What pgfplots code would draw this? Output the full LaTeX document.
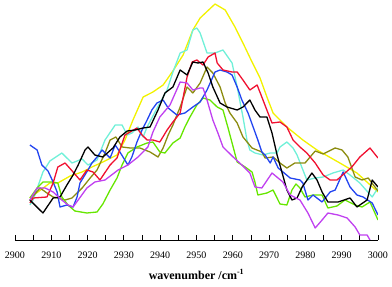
\documentclass[border=0pt]{standalone}
\usepackage{fontspec}
\setmainfont{Liberation Serif}
\usepackage{pgfplots}
\pgfplotsset{compat=1.18}
\definecolor{cYellow}{HTML}{F2F200}
\definecolor{cCyan}{HTML}{70F0D8}
\definecolor{cRed}{HTML}{F01030}
\definecolor{cBlue}{HTML}{2244F0}
\definecolor{cOlive}{HTML}{8C8C10}
\definecolor{cGreen}{HTML}{66E600}
\definecolor{cMag}{HTML}{C040F0}
\begin{document}
\begin{tikzpicture}[x=1pt,y=1pt]
\begin{axis}[
  name=ax,
  at={(0,0)}, anchor=origin,
  scale only axis,
  width=363pt, height=240pt,
  xmin=2900, xmax=3000, ymin=0, ymax=240,
  axis x line=bottom, axis y line=none,
  axis line style={-, line width=0.8pt},
  xtick={2900,2910,...,3000},
  minor xtick={2905,2915,...,2995},
  tick align=inside,
  major tick length=5pt, minor tick length=5pt,
  tick style={line width=0.8pt, black},
  /pgf/number format/assume math mode=true,
  /pgf/number format/set thousands separator={},
  xticklabel style={font=\fontsize{10}{12}\selectfont, anchor=base, yshift=-19pt},
  xlabel={\textbf{wavenumber /cm\textsuperscript{-1}}},
  xlabel style={font=\fontsize{12}{14}\selectfont, at={(axis description cs:0.5,0)}, anchor=base, yshift=-39pt},
  every axis plot/.append style={line width=1.3pt, line join=round, mark=none},
]
% yellow
\addplot[cYellow] coordinates {
(2904.1,42)(2909.6,57)(2911.8,57)(2915.2,64)(2918.5,68)(2921.2,73)(2924.2,78)(2928.1,85)(2930.3,100)(2932.5,120)(2935.3,143)(2938.0,148)(2940.8,155)(2943.5,169)(2946.3,185)(2949.0,210)(2951.0,222)(2955.1,236)(2957.9,230)(2960.6,213)(2962.8,197)(2965.3,178)(2967.5,162)(2969.4,143)(2971.1,127)(2974.9,113)(2979.3,100)(2983.2,90)(2989.5,77)(2994.2,67)(3000.0,48)};
% cyan
\addplot[cCyan] coordinates {
(2904.1,35)(2905.0,40)(2907.7,68)(2909.6,79)(2912.9,87)(2915.7,77)(2918.5,81)(2920.1,75)(2922.6,80)(2924.8,100)(2927.6,115)(2929.5,115)(2930.9,105)(2932.2,107)(2933.9,113)(2935.3,103)(2936.4,113)(2939.9,137)(2941.9,150)(2943.5,168)(2945.5,187)(2947.4,190)(2949.0,210)(2950.1,212)(2951.0,207)(2952.9,187)(2955.1,187)(2957.3,190)(2959.8,177)(2961.2,153)(2962.8,123)(2963.9,100)(2964.7,90)(2966.1,87)(2968.3,85)(2970.3,87)(2972.2,87)(2973.0,93)(2974.9,98)(2976.6,92)(2977.7,85)(2979.1,72)(2980.4,60)(2982.7,62)(2984.9,63)(2987.6,67)(2990.4,70)(2992.3,65)(2995.0,57)(2998.4,43)(3000.0,52)};
% olive
\addplot[cOlive] coordinates {
(2904.1,40)(2906.9,52)(2908.8,47)(2910.5,43)(2913.8,40)(2915.7,42)(2918.5,52)(2920.7,62)(2922.6,70)(2924.8,87)(2926.2,100)(2927.8,103)(2929.5,93)(2931.7,92)(2934.4,92)(2937.2,88)(2939.4,83)(2940.8,92)(2942.2,105)(2943.5,115)(2945.5,133)(2947.4,153)(2949.0,147)(2951.0,157)(2952.9,173)(2954.5,167)(2956.5,153)(2957.9,137)(2959.2,127)(2961.2,117)(2962.8,103)(2965.3,92)(2968.0,88)(2968.9,82)(2971.1,83)(2973.0,77)(2974.9,72)(2977.1,77)(2979.9,77)(2982.7,89)(2984.9,86)(2988.2,92)(2990.1,90)(2991.7,83)(2993.7,63)(2995.6,60)(2997.3,62)(3000.0,49)};
% green
\addplot[cGreen] coordinates {
(2904.1,42)(2906.1,52)(2907.7,58)(2910.2,58)(2911.8,57)(2912.9,43)(2914.6,35)(2916.5,29)(2919.8,27)(2922.6,28)(2924.2,36)(2926.2,50)(2928.1,62)(2929.5,75)(2931.1,87)(2933.6,93)(2936.4,97)(2938.0,98)(2939.9,88)(2941.3,87)(2943.5,97)(2945.5,102)(2946.8,113)(2948.2,123)(2950.1,135)(2951.8,142)(2953.7,140)(2955.7,133)(2957.3,130)(2958.7,112)(2960.1,93)(2961.2,78)(2963.4,73)(2965.3,68)(2966.1,58)(2966.9,45)(2969.4,47)(2971.1,50)(2973.0,36)(2974.9,35)(2976.3,50)(2977.4,56)(2978.5,52)(2979.9,43)(2982.1,45)(2984.6,45)(2986.2,32)(2988.7,34)(2990.9,40)(2993.7,35)(2995.6,33)(2997.8,38)(3000.0,20)};
% blue
\addplot[cBlue] coordinates {
(2904.1,95)(2906.1,90)(2907.4,75)(2909.1,69)(2910.5,58)(2911.6,48)(2912.4,33)(2914.3,35)(2916.0,33)(2917.1,43)(2917.9,57)(2920.1,70)(2921.2,77)(2922.6,83)(2924.0,90)(2926.2,82)(2927.6,95)(2928.9,88)(2931.1,75)(2932.2,83)(2933.6,98)(2935.0,110)(2936.4,120)(2937.7,130)(2939.1,137)(2940.8,140)(2942.2,132)(2944.6,125)(2946.8,127)(2949.0,133)(2951.0,138)(2952.9,150)(2955.1,168)(2956.5,170)(2958.4,168)(2959.8,165)(2961.2,153)(2962.5,140)(2964.2,127)(2965.6,113)(2966.9,100)(2968.0,88)(2968.9,85)(2970.3,77)(2971.1,83)(2972.5,72)(2975.8,62)(2978.5,60)(2979.3,57)(2980.7,40)(2982.1,45)(2984.6,38)(2986.8,48)(2988.2,50)(2990.4,68)(2992.3,53)(2994.2,45)(2995.9,43)(2998.4,37)(3000.0,25)};
% red
\addplot[cRed] coordinates {
(2904.1,37)(2905.0,42)(2908.8,43)(2910.5,57)(2911.8,73)(2913.8,77)(2916.0,68)(2917.9,60)(2919.8,70)(2921.5,68)(2923.4,60)(2926.2,75)(2928.1,82)(2930.3,105)(2931.7,108)(2933.6,112)(2935.0,105)(2936.4,100)(2938.0,100)(2939.9,98)(2941.9,110)(2943.5,118)(2945.5,127)(2947.4,163)(2948.8,178)(2950.1,180)(2951.8,175)(2953.2,183)(2955.1,187)(2955.7,177)(2957.3,170)(2959.8,168)(2961.2,168)(2962.8,160)(2964.7,150)(2966.7,155)(2968.0,143)(2969.7,127)(2970.8,117)(2973.0,118)(2974.9,113)(2976.6,100)(2978.5,93)(2980.4,87)(2982.7,77)(2984.9,65)(2986.8,60)(2988.7,60)(2990.9,67)(2992.8,73)(2995.0,83)(2997.8,92)(3000.0,82)};
% black
\addplot[black] coordinates {
(2904.1,40)(2906.3,32)(2907.7,27)(2910.5,42)(2912.4,43)(2914.3,55)(2916.0,65)(2917.4,75)(2919.3,90)(2920.1,93)(2922.0,85)(2924.2,83)(2927.0,92)(2928.9,103)(2930.9,109)(2933.1,110)(2935.3,112)(2937.2,113)(2939.4,130)(2941.3,147)(2943.5,153)(2945.5,170)(2947.4,165)(2949.0,178)(2950.4,177)(2951.8,178)(2953.2,167)(2954.5,153)(2956.5,137)(2958.4,133)(2961.2,130)(2962.8,133)(2964.7,140)(2966.1,130)(2967.5,123)(2969.4,123)(2970.8,107)(2972.2,85)(2973.6,67)(2974.9,50)(2976.3,40)(2977.7,42)(2979.1,53)(2981.8,67)(2983.2,60)(2984.6,48)(2986.2,38)(2989.0,38)(2992.3,42)(2994.2,33)(2997.0,40)(2998.4,60)(3000.0,53)};
% magenta
\addplot[cMag] coordinates {
(2904.1,40)(2906.1,52)(2908.3,52)(2910.5,48)(2912.9,40)(2914.6,35)(2916.0,33)(2917.4,40)(2919.8,52)(2922.0,58)(2924.8,60)(2928.4,70)(2931.1,75)(2933.9,83)(2936.6,93)(2938.0,108)(2939.9,123)(2942.7,135)(2945.5,158)(2947.4,157)(2949.0,150)(2951.0,152)(2951.8,152)(2952.9,140)(2954.5,120)(2955.9,107)(2957.3,93)(2960.1,83)(2962.5,75)(2964.7,67)(2966.1,53)(2968.0,52)(2970.8,67)(2973.8,58)(2975.8,45)(2978.5,40)(2980.7,27)(2982.7,12)(2984.6,20)(2986.2,27)(2989.0,25)(2991.5,22)(2993.7,13)(2995.0,5)(2997.0,5)(2997.8,0)};
\end{axis}
\pgfresetboundingbox
\path[use as bounding box] (-15pt,-47pt) rectangle (377pt,240pt);
\end{tikzpicture}
\end{document}
